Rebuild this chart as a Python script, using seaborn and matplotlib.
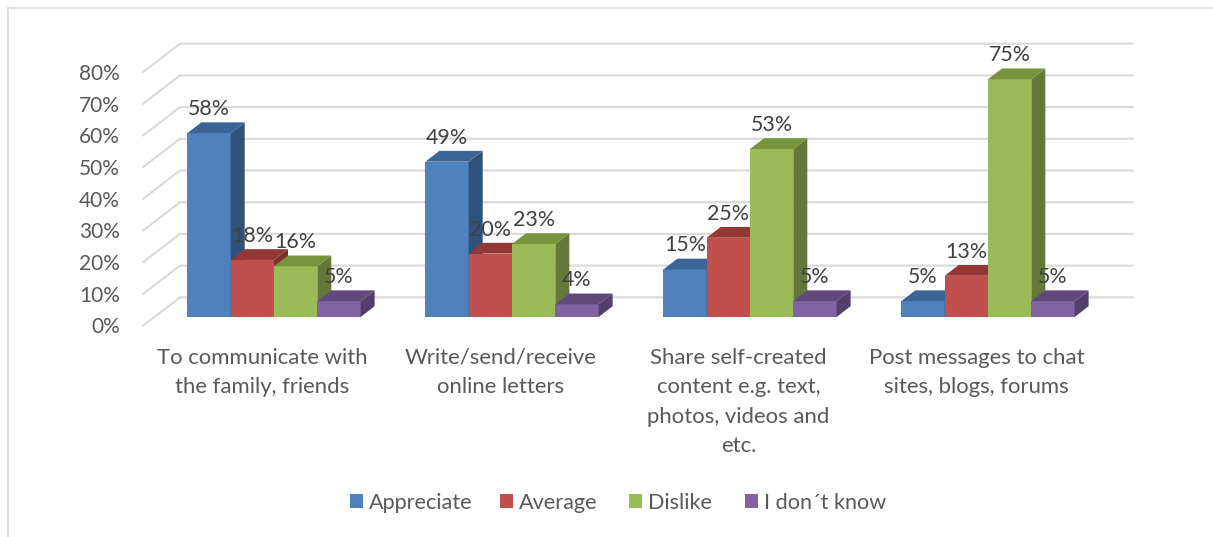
import matplotlib
matplotlib.use("Agg")
import matplotlib.pyplot as plt
from matplotlib.lines import Line2D
from matplotlib.patches import Polygon
from matplotlib.transforms import ScaledTranslation
import pandas as pd
import seaborn as sns

categories = ["To communicate with\nthe family, friends",
              "Write/send/receive\nonline letters",
              "Share self-created\ncontent e.g. text,\nphotos, videos and\netc.",
              "Post messages to chat\nsites, blogs, forums"]
series = ["Appreciate", "Average", "Dislike", "I don´t know"]
appreciate = [58, 49, 15, 5]
average = [18, 20, 25, 13]
dislike = [16, 23, 53, 75]
dont_know = [5, 4, 5, 5]
y_ticks = [0, 10, 20, 30, 40, 50, 60, 70, 80]

front_colors = ["#4F81BD", "#C0504D", "#9BBB59", "#8064A2"]
top_colors = ["#3C6494", "#953735", "#77933C", "#604A7B"]
side_colors = ["#2F5278", "#7E2E2C", "#65783A", "#533E6E"]

W, H = 1213, 537
sns.set_theme(style="white")
plt.rcParams["font.family"] = ["Lato", "DejaVu Sans"]
FS_TICK = 15.0
FS_DATA = 15.4
FS_CAT = 15.95
FS_LEG = 15.6
PX_X = 238.0   # pixels per category
PX_Y = 3.17    # pixels per percent
LEFT = 155.0

df = pd.DataFrame({
    "category": categories * 4,
    "series": [s for s in series for _ in categories],
    "value": appreciate + average + dislike + dont_know,
})

fig = plt.figure(figsize=(W / 100, H / 100), dpi=100, facecolor="white")
ax = fig.add_axes([LEFT / W, (H - 317) / H, 952 / W, 80 * PX_Y / H])
sns.barplot(data=df, x="category", y="value", hue="series", hue_order=series,
            order=categories, palette=front_colors, saturation=1, width=0.728,
            gap=0, ax=ax, zorder=3, linewidth=0, errorbar=None)
ax.set_xlim(-0.5, 3.5)
ax.set_ylim(0, 80)
ax.set_xlabel("")
ax.set_ylabel("")
sns.despine(ax=ax, left=True, bottom=True)
ax.patch.set_visible(False)

# 3-D wall gridlines
fx = -0.5 + (143 - LEFT) / PX_X
bx = -0.5 + (180 - LEFT) / PX_X
ex = -0.5 + (1133 - LEFT) / PX_X
fy = -8.7 / PX_Y
by = 19.7 / PX_Y
for v in y_ticks:
    ax.plot([fx, bx, ex], [v + fy, v + by, v + by], color="#D9D9D9", lw=1.5,
            clip_on=False, zorder=1, solid_joinstyle="miter")

# 3-D depth of the bars, derived from each bar
ddx = 14.0 / PX_X
ddy = 10.8 / PX_Y
for i, cont in enumerate(ax.containers[:4]):
    z = 3 + 2 * i
    for bar in cont:
        bar.set_zorder(z)
        x0, w, h = bar.get_x(), bar.get_width(), bar.get_height()
        x1 = x0 + w
        ax.add_patch(Polygon([(x1, 0), (x1 + ddx, ddy), (x1 + ddx, h + ddy), (x1, h)],
                             closed=True, fc=side_colors[i], ec="none", zorder=z, clip_on=False))
        ax.add_patch(Polygon([(x0, h), (x0 + ddx, h + ddy), (x1 + ddx, h + ddy), (x1, h)],
                             closed=True, fc=top_colors[i], ec="none", zorder=z, clip_on=False))
        ax.annotate(f"{h:.0f}%", (x0 + w / 2, h), xytext=(0, 24 * 0.72),
                    textcoords="offset points", ha="center", va="center",
                    fontsize=FS_DATA, color="#404040", zorder=30, annotation_clip=False)

# Axis labels
ax.set_yticks(y_ticks, [f"{v}%" for v in y_ticks])
ax.tick_params(axis="y", length=0, pad=25.2, labelsize=FS_TICK, labelcolor="#595959")
ax.tick_params(axis="x", length=0, pad=22.0, labelsize=FS_CAT, labelcolor="#595959")
for lab in ax.get_yticklabels():
    lab.set_transform(lab.get_transform() + ScaledTranslation(0, -8.4 / 100, fig.dpi_scale_trans))
for lab in ax.get_xticklabels():
    lab.set_linespacing(1.6)
    lab.set_transform(lab.get_transform() + ScaledTranslation(-11.5 / 100, 0, fig.dpi_scale_trans))

# Legend: the reference spaces its entries unevenly, so each is anchored on its own
leg = ax.get_legend()
handles = leg.legend_handles
leg.remove()
legend_left = [350, 500, 629, 745]
for handle, name, px in zip(handles, series, legend_left):
    fig.legend([handle], [name], loc="center left", bbox_to_anchor=(px / W, 1 - 503 / H),
               frameon=False, fontsize=FS_LEG, labelcolor="#595959",
               handlelength=0.6, handleheight=0.6, handletextpad=0.28,
               borderpad=0, borderaxespad=0)

# Chart frame
frame = "#D9D9D9"
fig.add_artist(Line2D([7.5 / W, 7.5 / W], [0, 1 - 8 / H], color=frame, lw=1.2))
fig.add_artist(Line2D([7.5 / W, 1], [1 - 8 / H, 1 - 8 / H], color=frame, lw=1.2))

fig.savefig("out.png", dpi=100)
